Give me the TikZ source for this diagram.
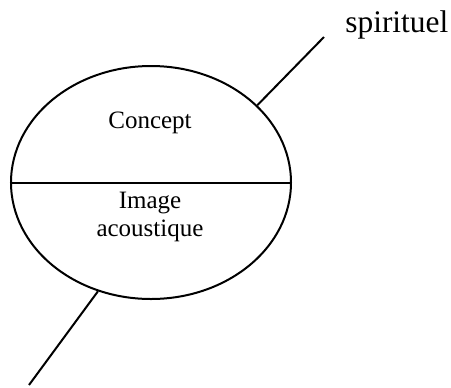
\documentclass[tikz,border=0pt]{standalone}
\usepackage{fontspec}
\setmainfont{Liberation Serif}
\usetikzlibrary{shapes}
\newcommand{\signtext}[3]{\node[draw=none,align=center,inner sep=0pt,font=\fontsize{12.5}{14}\selectfont] (#1) at #2 {#3};}
\tikzset{signline/.style={line width=1pt}}

\begin{document}
\begin{tikzpicture}[x=0.5pt,y=-0.5pt]
\useasboundingbox (0,0) rectangle (451,387);
% the sign
\node[shape=ellipse,draw,signline,minimum width=140pt,minimum height=116.5pt,inner sep=0pt] (sign) at (151,182.5) {};
\draw[signline] (sign.west) -- (sign.east);
% labels inside
\signtext{concept}{(150,123)}{Concept}
\signtext{image}{(150,217)}{Image\\acoustique}
% the two strokes
\coordinate (top) at (324,37);
\coordinate (bottom) at (29,385);
\draw[signline] (sign.36.4) -- (top);
\draw[signline] (sign.244.2) -- (bottom);
\node[anchor=base west,inner sep=0pt,font=\fontsize{15.7}{18}\selectfont] (spirit) at (345,32) {spirituel};
\end{tikzpicture}
\end{document}
